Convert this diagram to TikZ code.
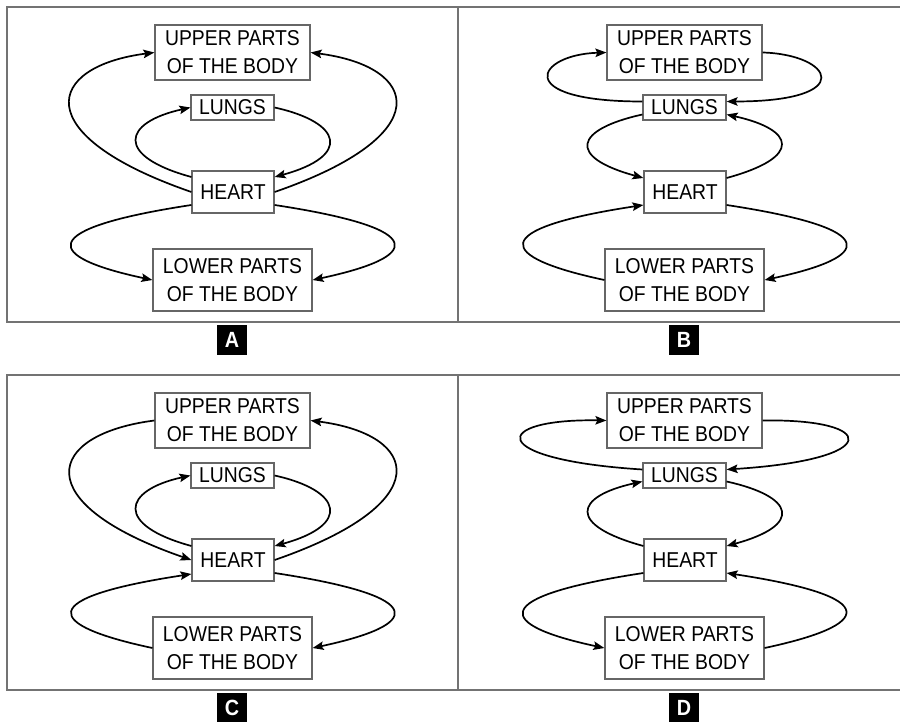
\documentclass[tikz,border=0pt]{standalone}
\usepackage{fontspec}
\setmainfont{Liberation Sans}[FakeStretch=0.9]
\usetikzlibrary{calc,arrows.meta}
\newcommand{\bez}[4]{\draw[flow] ($#1$) .. controls ($#1+#2$) and ($#3+#4$) .. ($#3$);}
\begin{document}
\begin{tikzpicture}[x=1pt,y=-1pt,
  box/.style={draw=black!60,line width=1.2pt,inner sep=0pt,align=center,font=\fontsize{21.5}{28}\selectfont},
  flow/.style={line width=1.7pt,-{Stealth[length=11pt,width=8.5pt,inset=2pt]}},
  frame/.style={draw=black!55,line width=1.6pt},
  tag/.style={fill=black,text=white,minimum size=30pt,inner sep=0pt,font=\fontsize{22}{22}\selectfont\bfseries}]
\useasboundingbox (0,0) rectangle (900,722);
\fill[white] (0,0) rectangle (900,722);
% frames
\draw[frame] (900,7) -- (7,7) -- (7,322) -- (900,322);
\draw[frame] (458,7) -- (458,322);
\draw[frame] (900,375) -- (7,375) -- (7,690) -- (900,690);
\draw[frame] (458,375) -- (458,690);
% nodes
\foreach \p/\dx/\dy in {A/0/0,B/452/0,C/0/368,D/452/368}{
  \node[box,minimum width=155pt,minimum height=55pt] (u\p) at (232.5+\dx,52.5+\dy) {UPPER PARTS\\OF THE BODY};
  \node[box,minimum width=83pt,minimum height=25pt] (l\p) at (232.5+\dx,107.5+\dy) {LUNGS};
  \node[box,minimum width=82pt,minimum height=42pt] (h\p) at (233+\dx,192+\dy) {HEART};
  \node[box,minimum width=159pt,minimum height=62pt] (w\p) at (232.5+\dx,280+\dy) {LOWER PARTS\\OF THE BODY};
}
\node[tag] (tA) at (232,340) {A};
\node[tag] (tB) at (684,340) {B};
\node[tag] (tC) at (232,708) {C};
\node[tag] (tD) at (684,708) {D};
% Panel A
\bez{(hA.west)}{(-165,-57)}{(uA.west)}{(-109,14)}
\bez{(hA.east)}{(165,-57)}{(uA.east)}{(109,14)}
\bez{(hA.west)+(0,-15)}{(-77,-21)}{(lA.west)}{(-68,15)}
\bez{(lA.east)}{(68,15)}{(hA.east)+(0,-15)}{(77,-21)}
\bez{(hA.west)+(0,13)}{(-158,24)}{(wA.west)}{(-108,-23)}
\bez{(hA.east)+(0,13)}{(158,24)}{(wA.east)}{(108,-23)}
% Panel B
\bez{(lB.west)+(0,-6)}{(-132,0)}{(uB.west)}{(-70,2)}
\bez{(uB.east)}{(70,2)}{(lB.east)+(0,-6)}{(132,0)}
\bez{(lB.west)+(0,7)}{(-68,15)}{(hB.west)+(0,-14)}{(-77,-21)}
\bez{(hB.east)+(0,-14)}{(77,-21)}{(lB.east)+(0,7)}{(68,15)}
\bez{(wB.west)}{(-108,-23)}{(hB.west)+(0,13)}{(-158,24)}
\bez{(hB.east)+(0,13)}{(158,24)}{(wB.east)}{(108,-23)}
% Panel C
\bez{(uC.west)}{(-109,14)}{(hC.west)}{(-165,-57)}
\bez{(hC.east)}{(165,-57)}{(uC.east)}{(109,14)}
\bez{(hC.west)+(0,-14)}{(-77,-21)}{(lC.west)}{(-68,15)}
\bez{(lC.east)}{(68,15)}{(hC.east)+(0,-14)}{(77,-21)}
\bez{(wC.west)}{(-108,-23)}{(hC.west)+(0,14)}{(-158,24)}
\bez{(hC.east)+(0,13)}{(158,24)}{(wC.east)}{(108,-23)}
% Panel D
\bez{(lD.west)+(0,-6)}{(-158,-10)}{(uD.west)}{(-116,-2)}
\bez{(uD.east)}{(116,-2)}{(lD.east)+(0,-6)}{(158,-10)}
\bez{(hD.west)+(0,-14)}{(-77,-21)}{(lD.west)+(0,6)}{(-68,15)}
\bez{(lD.east)+(0,6)}{(68,15)}{(hD.east)+(0,-14)}{(77,-21)}
\bez{(hD.west)+(0,13)}{(-158,24)}{(wD.west)}{(-108,-23)}
\bez{(wD.east)}{(108,-23)}{(hD.east)+(0,13)}{(158,24)}
\end{tikzpicture}
\end{document}
